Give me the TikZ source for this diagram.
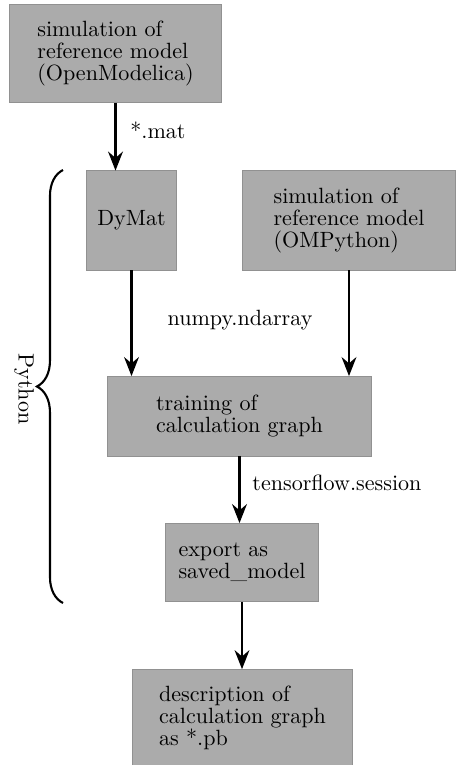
\documentclass[tikz,border=0pt]{standalone}
\usepackage{tikz}
\usetikzlibrary{arrows.meta, decorations.pathreplacing}
\definecolor{boxgray}{RGB}{171, 171, 171}
\definecolor{edgegray}{RGB}{145, 145, 145}

\begin{document}
\begin{tikzpicture}[x=0.476pt, y=-0.476pt,
  every node/.style={font=\fontsize{10.5}{10.5}\selectfont},
  box/.style={draw=edgegray, fill=boxgray, align=left, inner sep=0pt, outer sep=0pt},
  flow/.style={-{Stealth[length=9pt, width=7pt]}, line width=1.3pt}]
  \useasboundingbox (0,0) rectangle (456,765);

  % Reference simulation (OpenModelica)
  \node[box, minimum width=101pt, minimum height=47pt] (simom) at (115.5,53.5)
    {simulation of\\reference model\\(OpenModelica)};

  % Python side: DyMat and OMPython
  \node[box, minimum width=43pt, minimum height=47.5pt] (dymat) at (131.5,220.5) {DyMat};
  \node[box, minimum width=101pt, minimum height=47.5pt] (simpy) at (349,220.5)
    {simulation of\\reference model\\(OMPython)};

  % Training
  \node[box, minimum width=126pt, minimum height=38pt] (train) at (239.5,416)
    {training of\\calculation graph};

  % Export
  \node[box, minimum width=72.5pt, minimum height=37.5pt] (export) at (242,562.5)
    {export as\\saved\_model};

  % Result
  \node[box, minimum width=105pt, minimum height=46pt] (descr) at (242.5,717.5)
    {description of\\calculation graph\\as *.pb};

  % Arrows
  \draw[flow] (simom.south) -- (simom.south |- dymat.north);
  \node[right] (matlabel) at (123,130) {*.mat};
  \draw[flow] (dymat.south) -- (dymat.south |- train.north);
  \draw[flow] (simpy.south) -- (simpy.south |- train.north);
  \node (nplabel) at (240,320) {numpy.ndarray};
  \draw[flow] (train.south) -- (train.south |- export.north);
  \node[right] (tflabel) at (245,483) {tensorflow.session};
  \draw[flow] (export.south) -- (export.south |- descr.north);

  % Python brace
  \coordinate (bracetop) at (63,170);
  \coordinate (bracebot) at (63,603);
  \draw[line width=1pt, decorate, decoration={brace, amplitude=12.4pt}]
    (bracebot) -- (bracetop);
  \node[rotate=-90] (python) at (24,389) {Python};
\end{tikzpicture}
\end{document}
